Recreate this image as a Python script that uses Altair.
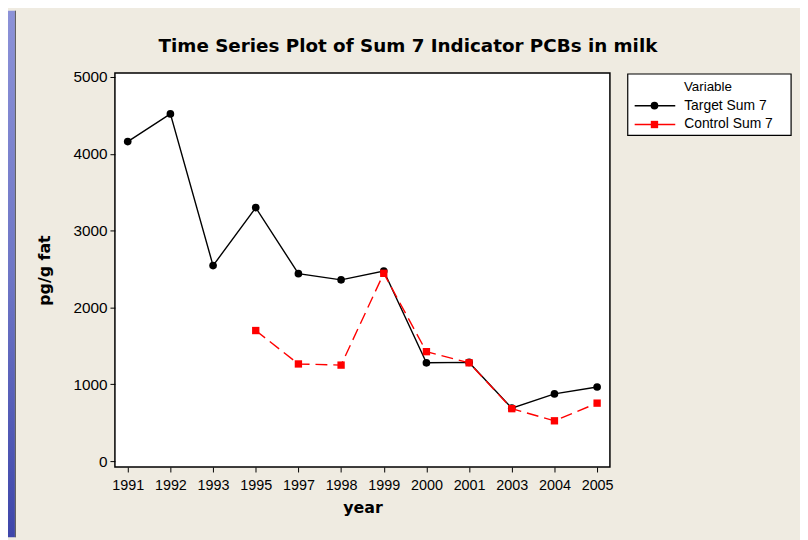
import altair as alt
import pandas as pd

# ---- data ----
years = ["1991", "1992", "1993", "1995", "1997", "1998", "1999",
         "2000", "2001", "2003", "2004", "2005"]
target_sum7 = [4160, 4520, 2545, 3300, 2440, 2360, 2475, 1280, 1285, 690, 875, 965]
control_years = ["1995", "1997", "1998", "1999", "2000", "2001", "2003", "2004", "2005"]
control_sum7 = [1700, 1265, 1250, 2445, 1425, 1280, 683, 525, 755]
series = ["Target Sum 7", "Control Sum 7"]
y_ticks = [0, 1000, 2000, 3000, 4000, 5000]
chart_title = "Time Series Plot of Sum 7 Indicator PCBs in milk"

target_df = pd.DataFrame({"year": years, "value": target_sum7, "Variable": series[0]})
control_df = pd.DataFrame({"year": control_years, "value": control_sum7, "Variable": series[1]})

BG = "#EFEBE1"
W, H = 500, 398

x_enc = alt.X("year:O", sort=years,
              scale=alt.Scale(type="point", domain=years, padding=0.3),
              axis=alt.Axis(title="year", titleX=250, titleY=41, titleBaseline="middle",
                            titleFont="DejaVu Sans", titleFontSize=16, titleFontWeight="bold",
                            labelAngle=0, labelPadding=7, labelFontSize=14.5))
y_enc = alt.Y("value:Q",
              scale=alt.Scale(domain=[-77, 5052], nice=False, zero=False),
              axis=alt.Axis(title="pg/g fat", values=y_ticks, format="d", titleX=-71, titleY=199,
                            titleAngle=270, titleAlign="center", titleBaseline="middle",
                            titleFont="DejaVu Sans", titleFontSize=16, titleFontWeight="bold",
                            labelPadding=3, labelFontSize=15.5))

t_line = alt.Chart(target_df).mark_line(color="black", strokeWidth=1.4).encode(x=x_enc, y=y_enc)
t_pts = alt.Chart(target_df).mark_point(filled=True, shape="circle", size=60, color="black", opacity=1).encode(x=x_enc, y=y_enc)
c_line = alt.Chart(control_df).mark_line(color="#FF0000", strokeWidth=1.4, strokeDash=[12, 6]).encode(x=x_enc, y=y_enc)
c_pts = alt.Chart(control_df).mark_point(filled=True, shape="square", size=55, color="#FF0000", opacity=1).encode(x=x_enc, y=y_enc)

one = pd.DataFrame({"a": [0]})

# left slide strip (decoration)
strip = alt.Chart(one).mark_rect(
    fill=alt.Gradient(gradient="linear", x1=0, x2=0, y1=0, y2=1,
                      stops=[alt.GradientStop(color="#8C92D8", offset=0),
                             alt.GradientStop(color="#6E76C6", offset=0.5),
                             alt.GradientStop(color="#3E46AA", offset=1)])
).encode(x=alt.value(-108), x2=alt.value(-101), y=alt.value(-63), y2=alt.value(469))
strip_edge = alt.Chart(one).mark_rule(color="#555555", strokeWidth=1).encode(
    x=alt.value(-100.5), y=alt.value(-63), y2=alt.value(469))

title_mark = alt.Chart(pd.DataFrame({"t": [chart_title]})).mark_text(
    font="DejaVu Sans", fontSize=18.5, fontWeight="bold", color="black",
    align="center", baseline="middle"
).encode(x=alt.value(296), y=alt.value(-27), text="t:N")

# legend (manual, Minitab style)
leg_box = alt.Chart(one).mark_rect(fill="white", stroke="black", strokeWidth=1.2).encode(
    x=alt.value(518), x2=alt.value(683), y=alt.value(1), y2=alt.value(63))
leg_title = alt.Chart(pd.DataFrame({"t": ["Variable"]})).mark_text(
    font="Liberation Sans", fontSize=13.5, color="black", align="center", baseline="middle"
).encode(x=alt.value(599), y=alt.value(14), text="t:N")

legend_layers = [leg_box, leg_title]
styles = [("black", "circle", 60), ("#FF0000", "square", 55)]
for i, name in enumerate(series):
    col, shp, sz = styles[i]
    yy = 33 + 19 * i
    d = pd.DataFrame({"Variable": [name]})
    legend_layers.append(alt.Chart(d).mark_rule(color=col, strokeWidth=1.4).encode(
        x=alt.value(525), x2=alt.value(566), y=alt.value(yy)))
    legend_layers.append(alt.Chart(d).mark_point(filled=True, shape=shp, size=sz, color=col, opacity=1).encode(
        x=alt.value(545), y=alt.value(yy)))
    legend_layers.append(alt.Chart(d).mark_text(
        font="Liberation Sans", fontSize=14, color="black", align="left", baseline="middle"
    ).encode(x=alt.value(575), y=alt.value(yy), text="Variable:N"))

chart = alt.layer(strip, strip_edge, title_mark, t_line, t_pts, c_line, c_pts, *legend_layers).properties(
    width=W, height=H,
    autosize=alt.AutoSizeParams(type="none"),
    padding={"left": 108, "top": 63, "right": 192, "bottom": 71},
    background=BG,
).configure_view(
    fill="white", stroke="black", strokeWidth=1.5
).configure_axis(
    domain=False, grid=False, ticks=True, tickColor="black", tickSize=5, tickWidth=1,
    labelColor="black", labelFont="Liberation Sans", titleColor="black"
)

chart.save("out.html", embed_options={"renderer": "svg", "actions": False})
